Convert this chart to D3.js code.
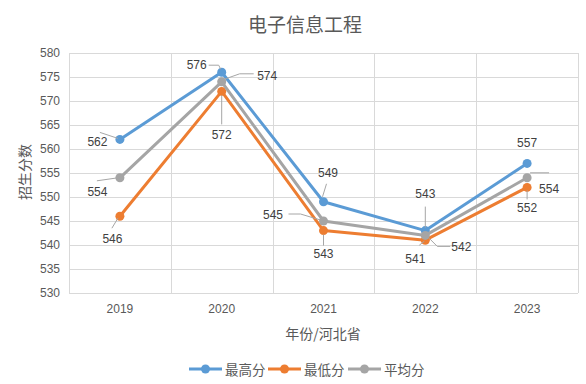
<!DOCTYPE html>
<html>
<head>
<meta charset="utf-8">
<script src="https://cdn.jsdelivr.net/npm/d3@7"></script>
<style>
  body { margin: 0; background: #fff; }
  text { font-family: "Liberation Sans", "Noto Sans CJK SC", sans-serif; fill: #595959; }
  .cjk { font-family: "Noto Sans CJK SC", sans-serif; }
</style>
</head>
<body>
<div id="chart"></div>
<script>
// data
const years = ["2019", "2020", "2021", "2022", "2023"];
const maxScore = [562, 576, 549, 543, 557];
const minScore = [546, 572, 543, 541, 552];
const avgScore = [554, 574, 545, 542, 554];
const yTicks = [530, 535, 540, 545, 550, 555, 560, 565, 570, 575, 580];
const seriesNames = ["最高分", "最低分", "平均分"];

// label placement: [label dx, dy] and leader points relative to the marker
const labelPlace = [
  [
    { l: [-22.5, 3], lead: [[-2, -1], [-20, -7]] },
    { l: [-25, -7], lead: [[-1, -3], [-3, -7], [-13, -7]] },
    { l: [4.5, -29], lead: [[-1, -5], [3, -18]] },
    { l: [0, -36.5], lead: [[0, -3], [0, -24]] },
    { l: [0, -20.5], lead: null }
  ],
  [
    { l: [-7.5, 23], lead: [[-2, 2], [-8, 12]] },
    { l: [0, 43.5], lead: [[0, 4], [0, 33]] },
    { l: [0, 23.5], lead: [[0, 4], [0, 15]] },
    { l: [-10, 19], lead: [[-1, 1], [-6, 5]] },
    { l: [0, 20.5], lead: [[0, 3], [0, 12]] }
  ],
  [
    { l: [-22.5, 14], lead: [[-2, 0], [-23, 3]] },
    { l: [45.5, -6], lead: [[1, -2], [18, -8], [32, -8]] },
    { l: [-50.5, -6.5], lead: [[-3, -1], [-23, -7], [-35, -7]] },
    { l: [36, 11.5], lead: [[4, 3], [12, 11], [25, 11]] },
    { l: [22, 11.5], lead: [[3, -5], [22, -5]] }
  ]
];

const colors = ["#5B9BD5", "#ED7D31", "#A5A5A5"];
const series = [maxScore, minScore, avgScore];

const svgWidth = 586, svgHeight = 384;
const plot = { left: 69, right: 578, top: 53, bottom: 293 };

const svg = d3.select("#chart").append("svg")
  .attr("width", svgWidth)
  .attr("height", svgHeight);

const xScale = d3.scaleBand()
  .domain(years)
  .range([plot.left, plot.right]);

const yScale = d3.scaleLinear()
  .domain([530, 580])
  .range([plot.bottom, plot.top]);

const cx = d => xScale(d) + xScale.bandwidth() / 2;

// gridlines
svg.append("g")
  .selectAll("line")
  .data(yTicks)
  .join("line")
  .attr("x1", plot.left).attr("x2", plot.right)
  .attr("y1", d => Math.round(yScale(d)) + 0.5)
  .attr("y2", d => Math.round(yScale(d)) + 0.5)
  .attr("stroke", "#D9D9D9");

const vLines = years.map(y => xScale(y)).concat([plot.right]);
svg.append("g")
  .selectAll("line")
  .data(vLines)
  .join("line")
  .attr("x1", d => Math.round(d) + 0.5).attr("x2", d => Math.round(d) + 0.5)
  .attr("y1", plot.top).attr("y2", plot.bottom)
  .attr("stroke", "#D9D9D9");

// axes
const yAxis = d3.axisLeft(yScale).tickValues(yTicks).tickSize(0).tickPadding(9);
const gy = svg.append("g")
  .attr("transform", `translate(${plot.left},0)`)
  .call(yAxis);
gy.select(".domain").remove();
gy.selectAll("text").attr("font-size", 12).style("fill", "#595959");

const xAxis = d3.axisBottom(xScale).tickSize(0).tickPadding(11);
const gx = svg.append("g")
  .attr("transform", `translate(0,${plot.bottom})`)
  .call(xAxis);
gx.select(".domain").remove();
gx.selectAll("text").attr("font-size", 12).style("fill", "#595959");

// titles
svg.append("text")
  .attr("class", "cjk")
  .attr("x", 305).attr("y", 23)
  .attr("text-anchor", "middle")
  .attr("dominant-baseline", "central")
  .attr("font-size", 19)
  .text("电子信息工程");

svg.append("text")
  .attr("class", "cjk")
  .attr("transform", "translate(24,172) rotate(-90)")
  .attr("text-anchor", "middle")
  .attr("dominant-baseline", "central")
  .attr("font-size", 14)
  .text("招生分数");

svg.append("text")
  .attr("class", "cjk")
  .attr("x", 323).attr("y", 333)
  .attr("text-anchor", "middle")
  .attr("dominant-baseline", "central")
  .attr("font-size", 14)
  .text("年份/河北省");

// lines and markers
const line = d3.line()
  .x((d, i) => cx(years[i]))
  .y(d => yScale(d));

series.forEach((vals, s) => {
  svg.append("path")
    .datum(vals)
    .attr("d", line)
    .attr("fill", "none")
    .attr("stroke", colors[s])
    .attr("stroke-width", 3)
    .attr("stroke-linejoin", "round");
  svg.append("g")
    .selectAll("circle")
    .data(vals)
    .join("circle")
    .attr("cx", (d, i) => cx(years[i]))
    .attr("cy", d => yScale(d))
    .attr("r", 4.5)
    .attr("fill", colors[s]);
});

// data labels with leader lines
series.forEach((vals, s) => {
  vals.forEach((v, i) => {
    const px = cx(years[i]), py = yScale(v);
    const p = labelPlace[s][i];
    if (p.lead) {
      svg.append("path")
        .attr("d", d3.line()(p.lead.map(q => [px + q[0], py + q[1]])))
        .attr("fill", "none")
        .attr("stroke", "#A6A6A6")
        .attr("stroke-width", 1);
    }
    svg.append("text")
      .attr("x", px + p.l[0]).attr("y", py + p.l[1])
      .attr("text-anchor", "middle")
      .attr("dominant-baseline", "central")
      .attr("font-size", 12)
      .style("fill", "#404040")
      .text(v);
  });
});

// legend
const legendX = [189, 268, 348];
const legend = svg.append("g");
seriesNames.forEach((name, s) => {
  const g = legend.append("g").attr("transform", `translate(${legendX[s]},369)`);
  g.append("line")
    .attr("x1", 0).attr("x2", 33)
    .attr("stroke", colors[s]).attr("stroke-width", 3);
  g.append("circle").attr("cx", 16.5).attr("r", 4.5).attr("fill", colors[s]);
  g.append("text")
    .attr("class", "cjk")
    .attr("x", 36).attr("y", 0)
    .attr("dominant-baseline", "central")
    .attr("font-size", 13.5)
    .text(name);
});
</script>
</body>
</html>
